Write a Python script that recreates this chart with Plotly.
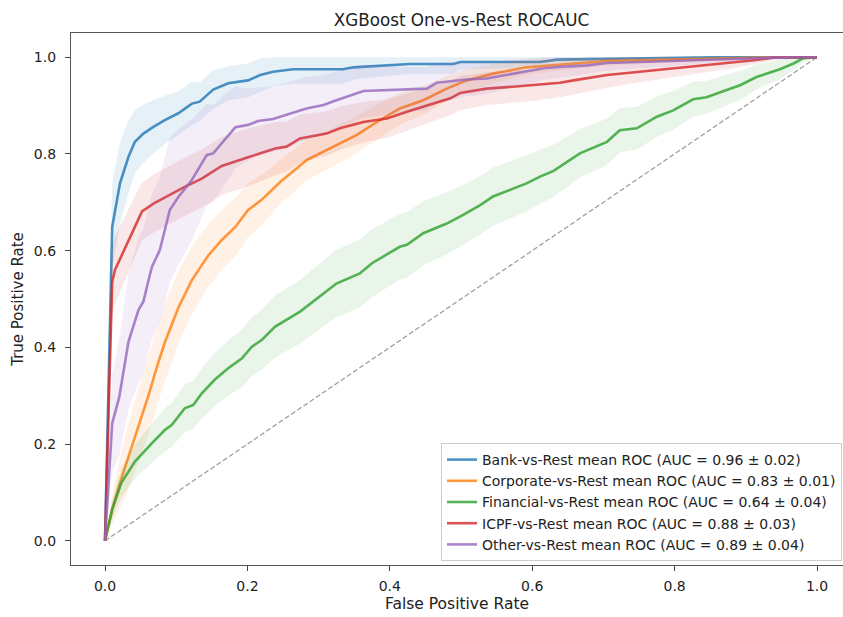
import plotly.graph_objects as go

# ---------------- data ----------------
class_names = ["Bank", "Corporate", "Financial", "ICPF", "Other"]
auc_means = [0.96, 0.83, 0.64, 0.88, 0.89]
auc_stds = [0.02, 0.01, 0.04, 0.03, 0.04]

bank_fpr = [0, 0.0101, 0.021, 0.033, 0.042, 0.054, 0.068, 0.084, 0.103, 0.122, 0.133, 0.152, 0.173,
            0.201, 0.218, 0.236, 0.264, 0.334, 0.349, 0.428, 0.489, 0.499, 0.611, 0.635, 0.854, 1.0]
bank_tpr = [0, 0.649, 0.739, 0.794, 0.825, 0.842, 0.856, 0.870, 0.884, 0.904, 0.908, 0.933, 0.946,
            0.952, 0.963, 0.970, 0.975, 0.975, 0.979, 0.986, 0.986, 0.990, 0.990, 0.995, 1.0, 1.0]
bank_std = [0, 0.09, 0.085, 0.075, 0.065, 0.06, 0.055, 0.05, 0.045, 0.045, 0.04, 0.04, 0.035,
            0.035, 0.035, 0.03, 0.03, 0.03, 0.025, 0.02, 0.02, 0.015, 0.012, 0.01, 0.003, 0]

corp_fpr = [0, 0.0101, 0.02, 0.030, 0.047, 0.061, 0.073, 0.084, 0.103, 0.122, 0.145, 0.164, 0.183,
            0.201, 0.220, 0.246, 0.283, 0.321, 0.353, 0.382, 0.414, 0.447, 0.480, 0.508, 0.545,
            0.592, 0.639, 0.705, 0.798, 0.94, 1.0]
corp_tpr = [0, 0.065, 0.115, 0.160, 0.240, 0.300, 0.360, 0.410, 0.482, 0.539, 0.590, 0.622, 0.649,
            0.684, 0.705, 0.742, 0.787, 0.815, 0.839, 0.866, 0.894, 0.911, 0.935, 0.952, 0.966,
            0.979, 0.985, 0.992, 0.995, 1.0, 1.0]
corp_std = [0, 0.03, 0.05, 0.065, 0.075, 0.08, 0.08, 0.08, 0.075, 0.07, 0.065, 0.062, 0.06,
            0.056, 0.052, 0.046, 0.042, 0.04, 0.038, 0.036, 0.033, 0.03, 0.026, 0.023, 0.02,
            0.016, 0.012, 0.009, 0.006, 0.002, 0]

fin_fpr = [0, 0.0101, 0.023, 0.042, 0.066, 0.084, 0.094, 0.112, 0.124, 0.136, 0.154, 0.173, 0.192,
           0.206, 0.220, 0.239, 0.274, 0.307, 0.325, 0.358, 0.375, 0.414, 0.424, 0.447, 0.480,
           0.503, 0.527, 0.545, 0.592, 0.611, 0.630, 0.667, 0.705, 0.723, 0.747, 0.775, 0.798,
           0.826, 0.845, 0.873, 0.892, 0.915, 0.948, 0.967, 0.981, 1.0]
fin_tpr = [0, 0.065, 0.120, 0.164, 0.202, 0.229, 0.240, 0.274, 0.281, 0.305, 0.333, 0.357, 0.377,
           0.401, 0.415, 0.443, 0.474, 0.512, 0.532, 0.553, 0.574, 0.608, 0.612, 0.636, 0.656,
           0.674, 0.694, 0.712, 0.739, 0.753, 0.765, 0.801, 0.825, 0.849, 0.853, 0.877, 0.890,
           0.913, 0.917, 0.932, 0.942, 0.959, 0.975, 0.987, 0.998, 1.0]
fin_std = [0, 0.02, 0.03, 0.035, 0.04, 0.045, 0.045, 0.05, 0.05, 0.052, 0.055, 0.057, 0.06,
           0.06, 0.062, 0.064, 0.066, 0.068, 0.07, 0.07, 0.07, 0.068, 0.068, 0.066, 0.064,
           0.062, 0.06, 0.06, 0.058, 0.056, 0.054, 0.05, 0.048, 0.046, 0.044, 0.042, 0.04,
           0.036, 0.034, 0.032, 0.03, 0.026, 0.02, 0.014, 0.008, 0]

icpf_fpr = [0, 0.0101, 0.014, 0.033, 0.052, 0.070, 0.094, 0.112, 0.136, 0.164, 0.201, 0.218, 0.239,
            0.255, 0.274, 0.311, 0.330, 0.363, 0.396, 0.424, 0.461, 0.485, 0.499, 0.536, 0.573,
            0.602, 0.639, 0.658, 0.705, 0.751, 0.798, 0.845, 0.882, 0.915, 0.939, 1.0]
icpf_tpr = [0, 0.535, 0.560, 0.622, 0.681, 0.699, 0.718, 0.732, 0.749, 0.775, 0.793, 0.801, 0.811,
            0.815, 0.832, 0.842, 0.853, 0.866, 0.873, 0.887, 0.904, 0.915, 0.926, 0.935, 0.939,
            0.942, 0.947, 0.952, 0.963, 0.970, 0.977, 0.983, 0.988, 0.994, 0.999, 1.0]
icpf_std = [0, 0.07, 0.07, 0.065, 0.06, 0.06, 0.06, 0.06, 0.06, 0.06, 0.06, 0.058, 0.055,
            0.052, 0.05, 0.046, 0.045, 0.042, 0.04, 0.038, 0.036, 0.035, 0.035, 0.034, 0.033,
            0.032, 0.03, 0.029, 0.026, 0.022, 0.018, 0.014, 0.011, 0.008, 0.005, 0]

other_fpr = [0, 0.0101, 0.020, 0.033, 0.047, 0.054, 0.063, 0.066, 0.077, 0.082, 0.091, 0.103, 0.122,
             0.143, 0.152, 0.164, 0.183, 0.201, 0.215, 0.236, 0.283, 0.307, 0.321, 0.363, 0.414,
             0.452, 0.466, 0.508, 0.536, 0.573, 0.616, 0.639, 0.677, 0.705, 0.798, 0.868, 0.938, 1.0]
other_tpr = [0, 0.243, 0.297, 0.412, 0.477, 0.495, 0.550, 0.567, 0.601, 0.629, 0.684, 0.711, 0.746,
             0.798, 0.801, 0.822, 0.855, 0.860, 0.868, 0.872, 0.894, 0.901, 0.909, 0.930, 0.932,
             0.935, 0.947, 0.954, 0.956, 0.966, 0.977, 0.980, 0.983, 0.988, 0.992, 0.996, 0.999, 1.0]
other_std = [0, 0.10, 0.12, 0.14, 0.15, 0.15, 0.15, 0.15, 0.15, 0.15, 0.15, 0.14, 0.125,
             0.105, 0.10, 0.095, 0.085, 0.075, 0.07, 0.068, 0.065, 0.062, 0.06, 0.055, 0.048,
             0.044, 0.042, 0.035, 0.032, 0.028, 0.024, 0.022, 0.018, 0.016, 0.01, 0.006, 0.003, 0]

series_fpr = [bank_fpr, corp_fpr, fin_fpr, icpf_fpr, other_fpr]
series_tpr = [bank_tpr, corp_tpr, fin_tpr, icpf_tpr, other_tpr]
series_std = [bank_std, corp_std, fin_std, icpf_std, other_std]

x_ticks = [0.0, 0.2, 0.4, 0.6, 0.8, 1.0]
y_ticks = [0.0, 0.2, 0.4, 0.6, 0.8, 1.0]

# ---------------- style ----------------
colors_rgb = [(31, 119, 180), (255, 127, 14), (44, 160, 44), (214, 39, 40), (148, 103, 189)]
FONT = "DejaVu Sans"

fig = go.Figure()

# chance diagonal
fig.add_trace(go.Scatter(x=[0, 1], y=[0, 1], mode="lines",
                         line=dict(color="rgba(128,128,128,0.8)", width=1.2, dash="5px,2.5px"),
                         showlegend=False, hoverinfo="skip"))

for name, am, asd, fx, ty, sd, (r, g, b) in zip(class_names, auc_means, auc_stds,
                                                 series_fpr, series_tpr, series_std, colors_rgb):
    upper = [min(t + s, 1.0) for t, s in zip(ty, sd)]
    lower = [max(t - s, 0.0) for t, s in zip(ty, sd)]
    fig.add_trace(go.Scatter(x=list(fx) + list(fx)[::-1], y=upper + lower[::-1],
                             mode="lines", line=dict(width=0), fill="toself",
                             fillcolor=f"rgba({r},{g},{b},0.11)",
                             showlegend=False, hoverinfo="skip"))
    fig.add_trace(go.Scatter(x=fx, y=ty, mode="lines",
                             line=dict(color=f"rgba({r},{g},{b},0.8)", width=2.6),
                             name=f"{name}-vs-Rest mean ROC (AUC = {am:.2f} \u00b1 {asd:.2f})"))

W, H = 843, 617
left, top, bottom = 71, 33, 565
x0_px, x1_px = 105, 817
xr = [(left - x0_px) / (x1_px - x0_px), (W - x0_px) / (x1_px - x0_px)]

axis_common = dict(showline=True, linecolor="#555555", linewidth=1.2, ticks="outside",
                   ticklen=5, tickwidth=1, tickcolor="#444444", showgrid=False, zeroline=False,
                   tickfont=dict(family=FONT, size=14, color="#222222"), tickformat=".1f")

fig.update_layout(
    width=W, height=H,
    margin=dict(l=left, r=0, t=top, b=H - bottom),
    paper_bgcolor="white", plot_bgcolor="white",
    font=dict(family=FONT, size=14, color="#222222"),
    title=dict(text="XGBoost One-vs-Rest ROCAUC", x=461.5 / W, xanchor="center",
               y=1 - 20 / H, yanchor="middle", font=dict(family=FONT, size=16.8, color="#222222")),
    xaxis=dict(range=xr, tickvals=x_ticks, mirror=True, ticklabelstandoff=3,
               title=dict(text="False Positive Rate", font=dict(family=FONT, size=15.5), standoff=5),
               **axis_common),
    yaxis=dict(range=[-0.05, 1.05], tickvals=y_ticks, mirror=False, ticklabelstandoff=6,
               title=dict(text="True Positive Rate", font=dict(family=FONT, size=15), standoff=6),
               **axis_common),
    legend=dict(x=(441 - left) / (W - left), y=(bottom - 561) / (bottom - top),
                xanchor="left", yanchor="bottom", bgcolor="rgba(255,255,255,0.85)",
                bordercolor="#cccccc", borderwidth=1, itemwidth=30,
                font=dict(family=FONT, size=14, color="#222222")),
    showlegend=True,
)

fig.write_html("out.html")
